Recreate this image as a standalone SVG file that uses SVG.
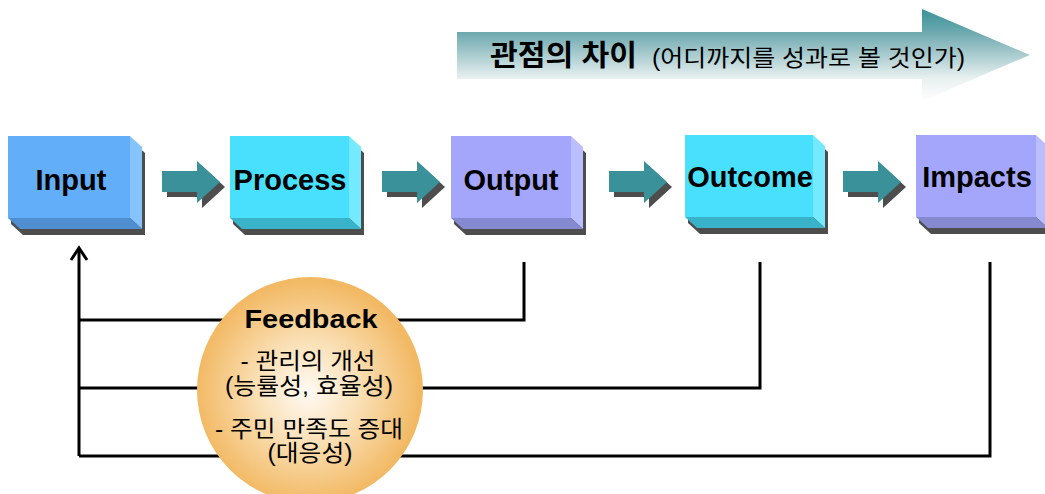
<svg xmlns="http://www.w3.org/2000/svg" width="1045" height="494" viewBox="0 0 1045 494">
<style>
.lbl{font-family:"Liberation Sans",Arial,sans-serif;font-weight:bold;font-size:29px;fill:#000;text-anchor:middle}
.kr{font-family:"Liberation Sans","Noto Sans CJK KR",sans-serif;fill:#000;text-anchor:middle}
.fb{font-size:23px}
.shadow{fill:#4d4d4d}
.blue-f{fill:#62aef8}.blue-r{fill:#86c3fb}.blue-b{fill:#4f8fd0}
.cyan-f{fill:#48e0fd}.cyan-r{fill:#74e9ff}.cyan-b{fill:#38b3c9}
.lav-f{fill:#a3a6fb}.lav-r{fill:#bbbefc}.lav-b{fill:#8589cf}
.barrow{fill:#3a9199}
.line{fill:none;stroke:#000;stroke-width:3;stroke-linejoin:miter}
</style>
<defs>
<linearGradient id="topGrad" gradientUnits="userSpaceOnUse" x1="0" y1="9" x2="0" y2="101">
<stop offset="0" stop-color="#3a929a"/>
<stop offset="0.25" stop-color="#6ca8af"/>
<stop offset="0.75" stop-color="#e8f0f0"/>
<stop offset="1" stop-color="#ffffff"/>
</linearGradient>
<radialGradient id="circGrad" cx="308" cy="392" r="113" gradientUnits="userSpaceOnUse">
<stop offset="0" stop-color="#fffaf3"/>
<stop offset="0.45" stop-color="#fae0b6"/>
<stop offset="1" stop-color="#f2b862"/>
</radialGradient>
</defs>

<g id="perspective-arrow">
<polygon points="457,32 922,32 922,9 1030,55 922,101 922,79 457,79" fill="url(#topGrad)"/>
<text class="kr" x="490" y="66" style="text-anchor:start;font-weight:bold;font-size:29px" textLength="147" lengthAdjust="spacingAndGlyphs">관점의 차이</text>
<text class="kr" x="652" y="66" style="text-anchor:start;font-size:23px" textLength="313" lengthAdjust="spacingAndGlyphs">(어디까지를 성과로 볼 것인가)</text>
</g>

<g id="connectors">
<polygon class="shadow" points="167,176 202,176 202,166 225,187 202,208 202,197 167,197"/>
<polygon class="barrow" points="162,171 197,171 197,161 220,182 197,203 197,192 162,192"/>
<polygon class="shadow" points="387,176 422,176 422,166 445,187 422,208 422,197 387,197"/>
<polygon class="barrow" points="382,171 417,171 417,161 440,182 417,203 417,192 382,192"/>
<polygon class="shadow" points="614,176 649,176 649,166 672,187 649,208 649,197 614,197"/>
<polygon class="barrow" points="609,171 644,171 644,161 667,182 644,203 644,192 609,192"/>
<polygon class="shadow" points="848,176 883,176 883,166 906,187 883,208 883,197 848,197"/>
<polygon class="barrow" points="843,171 878,171 878,161 901,182 878,203 878,192 843,192"/>
<path class="line" d="M79,456 L79,248"/>
<path class="line" d="M71,260 L79,248 L87,260"/>
<path class="line" d="M79,320 L524,320 L524,262"/>
<path class="line" d="M79,388 L760,388 L760,262"/>
<path class="line" d="M79,456 L990,456 L990,262"/>
</g>

<g id="input">
<polygon class="shadow" points="11,142 133,142 145,153 145,235 23,235 11,224"/>
<rect class="blue-f" x="8" y="136" width="122" height="82"/>
<polygon class="blue-r" points="130,136 142,147 142,229 130,218"/>
<polygon class="blue-b" points="8,218 130,218 142,229 20,229"/>
<text class="lbl" x="71" y="190">Input</text>
</g>

<g id="process">
<polygon class="shadow" points="233,142 352,142 364,153 364,235 245,235 233,224"/>
<rect class="cyan-f" x="230" y="136" width="119" height="82"/>
<polygon class="cyan-r" points="349,136 361,147 361,229 349,218"/>
<polygon class="cyan-b" points="230,218 349,218 361,229 242,229"/>
<text class="lbl" x="290" y="190">Process</text>
</g>

<g id="output">
<polygon class="shadow" points="454,142 574,142 586,153 586,235 466,235 454,224"/>
<rect class="lav-f" x="451" y="136" width="120" height="82"/>
<polygon class="lav-r" points="571,136 583,147 583,229 571,218"/>
<polygon class="lav-b" points="451,218 571,218 583,229 463,229"/>
<text class="lbl" x="511" y="190">Output</text>
</g>

<g id="outcome">
<polygon class="shadow" points="688,141 816,141 828,152 828,234 700,234 688,223"/>
<rect class="cyan-f" x="685" y="135" width="128" height="82"/>
<polygon class="cyan-r" points="813,135 825,146 825,228 813,217"/>
<polygon class="cyan-b" points="685,217 813,217 825,228 697,228"/>
<text class="lbl" x="750" y="187">Outcome</text>
</g>

<g id="impacts">
<polygon class="shadow" points="919,141 1039,141 1051,152 1051,234 931,234 919,223"/>
<rect class="lav-f" x="916" y="135" width="120" height="82"/>
<polygon class="lav-r" points="1036,135 1048,146 1048,228 1036,217"/>
<polygon class="lav-b" points="916,217 1036,217 1048,228 928,228"/>
<text class="lbl" x="977" y="187">Impacts</text>
</g>

<g id="feedback">
<circle cx="310" cy="390" r="113" fill="url(#circGrad)"/>
<text class="lbl" x="311" y="328" style="font-size:26px" textLength="133" lengthAdjust="spacingAndGlyphs">Feedback</text>
<text class="kr fb" x="308" y="369" textLength="135" lengthAdjust="spacingAndGlyphs">- 관리의 개선</text>
<text class="kr fb" x="309" y="394" textLength="168" lengthAdjust="spacingAndGlyphs">(능률성, 효율성)</text>
<text class="kr fb" x="309" y="437" textLength="188" lengthAdjust="spacingAndGlyphs">- 주민 만족도 증대</text>
<text class="kr fb" x="310" y="461" textLength="85" lengthAdjust="spacingAndGlyphs">(대응성)</text>
</g>
</svg>
